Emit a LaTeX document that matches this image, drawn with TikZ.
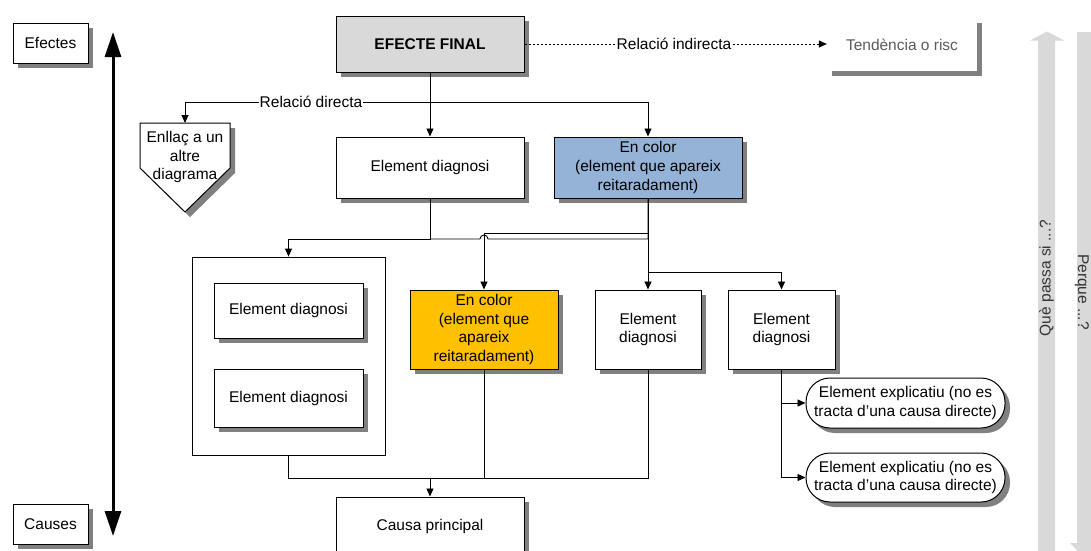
\documentclass[tikz,border=0pt]{standalone}
\usepackage{fontspec}
\setmainfont{Liberation Sans}
\usetikzlibrary{arrows.meta,shadows,calc}
\definecolor{shadowgray}{RGB}{128,128,128}
\definecolor{finalgray}{RGB}{217,217,217}
\definecolor{bluefill}{RGB}{149,179,215}
\definecolor{orangefill}{RGB}{255,192,0}
\definecolor{arrowgray}{RGB}{217,217,217}
\definecolor{tendgray}{RGB}{90,90,90}
\newcommand{\fs}{\fontsize{15.5}{18.7}\selectfont}
\tikzset{
  shad/.style={drop shadow={shadow xshift=5pt,shadow yshift=-5pt,fill=shadowgray,opacity=1}},
  box/.style={draw, line width=1pt, fill=white, shad, align=center, inner sep=2pt},
  conn/.style={line width=0.9pt},
  arr/.style={line width=0.9pt, -{Triangle[length=8pt,width=7pt]}},
  lbl/.style={fill=white, inner sep=1pt},
}
\begin{document}
\begin{tikzpicture}[x=1pt,y=-1pt, every node/.style={font=\fs}]
\useasboundingbox (0,0) rectangle (1091,550);
\clip (0,0) rectangle (1091,550);

% axis arrow
\coordinate (axtop) at (113,32);
\coordinate (axbot) at (113,536);
\draw[line width=3pt, {Triangle[length=25pt,width=16pt]}-{Triangle[length=25pt,width=16pt]}] (axtop) -- (axbot);

% side boxes
\node[box, minimum width=75pt, minimum height=40pt] (efectes) at (50.5,43) {Efectes};
\node[box, minimum width=75pt, minimum height=40pt] (causes) at (50.5,524) {Causes};

% top
\node[box, fill=finalgray, minimum width=188pt, minimum height=56pt, font=\fs\bfseries] (final) at (430,44) {EFECTE FINAL};
\node[fill=white, shad, minimum width=150pt, minimum height=53pt, text=tendgray] (tend) at (902,44.5) {Tendència o risc};

\node[box, minimum width=188pt, minimum height=61pt] (ed1) at (430,167.5) {Element diagnosi};
\node[box, fill=bluefill, minimum width=188pt, minimum height=61pt] (blue) at (648,167.5) {En color\\(element que apareix\\reitaradament)};

% pentagon link
\draw[line width=1pt, fill=white, shad] (140,123) -- (230,123) -- (230,168) -- (185,212) -- (140,168) -- cycle;
\node[align=center, inner sep=0pt] (pent) at (185,157) {Enllaç a un\\altre\\diagrama};
\coordinate (penttop) at (185,123);

% container
\node[draw, line width=0.8pt, fill=white, minimum width=193pt, minimum height=198pt] (cont) at (288.5,356) {};
\node[box, minimum width=149pt, minimum height=55pt] (in1) at (288.5,310.5) {Element diagnosi};
\node[box, minimum width=149pt, minimum height=58pt] (in2) at (288.5,398) {Element diagnosi};

\node[box, fill=orangefill, minimum width=148pt, minimum height=79pt] (orange) at (484,329.5) {En color\\(element que\\apareix\\reitaradament)};
\node[box, minimum width=106pt, minimum height=79pt] (ed3) at (648,329.5) {Element\\diagnosi};
\node[box, minimum width=107pt, minimum height=79pt] (ed4) at (781.5,329.5) {Element\\diagnosi};

\node[box, rounded corners=24pt, minimum width=199pt, minimum height=50pt, inner sep=1pt] (r1) at (905.5,403) {Element explicatiu (no es\\tracta d’una causa directe)};
\node[box, rounded corners=24pt, minimum width=199pt, minimum height=49pt, inner sep=1pt] (r2) at (905.5,477.5) {Element explicatiu (no es\\tracta d’una causa directe)};

\node[box, minimum width=188pt, minimum height=59pt] (causa) at (430,526.5) {Causa principal};

% connectors
\draw[line width=0.7pt, dash pattern=on 2.5pt off 1.5pt, -{Triangle[length=8pt,width=7pt]}] (final.east) -- (final.east -| tend.west);
\node[lbl] (lind) at (674,43.5) {Relació indirecta};

\draw[arr] (final.south) -- (ed1.north);
\coordinate (jd) at (430,102);
\draw[arr] (jd) -| (penttop);
\draw[arr] (jd) -| (blue.north);
\node[lbl] (ldir) at (311,102) {Relació directa};

\draw[arr] (ed1.south) -- (430,239) -| (cont.north);
\draw[arr] (blue.south) -- (648,233) -| (orange.north);
\draw[conn] (blue.south) -- (648,239) -- (488,239) arc (0:180:4pt) -- (430,239);
\draw[arr] (blue.south) -- (ed3.north);
\draw[arr] (blue.south) -- (648,272) -| (ed4.north);

\draw[arr] (cont.south) -- (288.5,478) -| (causa.north);
\draw[conn] (orange.south) -- (484,478);
\draw[conn] (ed3.south) -- (648,478) -- (430,478);

\draw[arr] (ed4.south) |- (r1.west);
\draw[arr] (ed4.south) |- (r2.west);

% right gray arrows
\fill[arrowgray] (1038,560) -- (1038,40.5) -- (1030,40.5) -- (1047,31.5) -- (1064,40.5) -- (1055,40.5) -- (1055,560) -- cycle;
\fill[arrowgray] (1077,32) -- (1094,32) -- (1094,543) -- (1102,543) -- (1086,560) -- (1070,543) -- (1077,543) -- cycle;
\node[rotate=90, text=black!80, inner sep=0pt] (q) at (1046.5,278) {Què passa si ...?};
\node[rotate=-90, text=black!80, inner sep=0pt] (p) at (1082,292) {Perque ...?};
\end{tikzpicture}
\end{document}
